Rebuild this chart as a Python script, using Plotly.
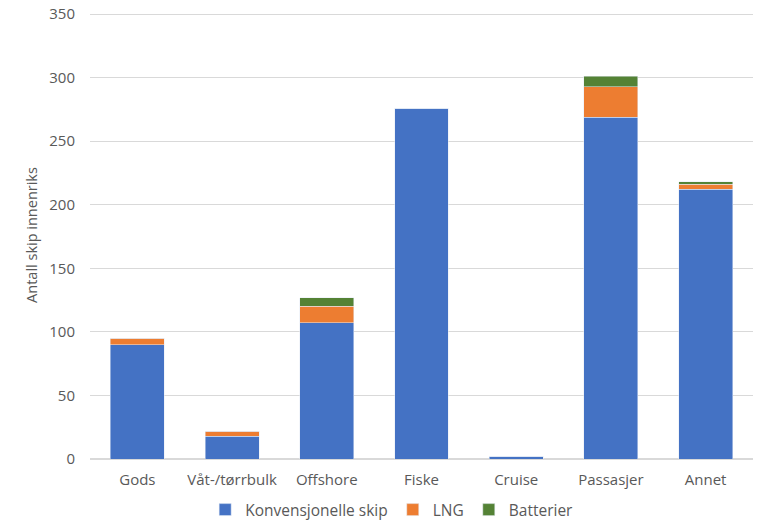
import plotly.graph_objects as go

categories = ["Gods", "Våt-/tørrbulk", "Offshore", "Fiske", "Cruise", "Passasjer", "Annet"]
konvensjonelle = [90, 18, 107, 276, 2, 269, 212]
lng = [5, 4, 13, 0, 0, 24, 4]
batterier = [0, 0, 7, 0, 0, 8, 2]
y_ticks = [0, 50, 100, 150, 200, 250, 300, 350]

fig = go.Figure()
fig.add_trace(go.Bar(x=categories, y=konvensjonelle, name="Konvensjonelle skip", marker_color="#4472C4"))
fig.add_trace(go.Bar(x=categories, y=lng, name="LNG", marker_color="#ED7D31"))
fig.add_trace(go.Bar(x=categories, y=batterier, name="Batterier", marker_color="#548235"))

txt = "#595959"
fig.update_layout(
    barmode="stack",
    bargap=0.43,
    width=761, height=522,
    margin=dict(l=90, r=8, t=11, b=63, autoexpand=False),
    paper_bgcolor="white", plot_bgcolor="white",
    font=dict(family="Open Sans", size=14, color=txt),
    legend=dict(orientation="h", x=0.455, xanchor="center", y=-0.076, yanchor="top",
                font=dict(size=15.5, color=txt), itemwidth=30, traceorder="normal",
                tracegroupgap=0),
    yaxis=dict(range=[0, 352.4], tickvals=y_ticks, showgrid=True, gridcolor="#D9D9D9",
               zeroline=True, zerolinecolor="#D9D9D9", ticks="", ticklabelstandoff=14,
               title=dict(text="Antall skip innenriks", font=dict(size=14.5, color=txt), standoff=8),
               tickfont=dict(size=15, color=txt)),
    xaxis=dict(showline=False, ticks="", ticklabelstandoff=10, tickfont=dict(size=15, color=txt)),
)

fig.write_html("out.html", config={"displayModeBar": False},
               post_script="document.body.style.margin='0';document.body.style.overflow='hidden';")
